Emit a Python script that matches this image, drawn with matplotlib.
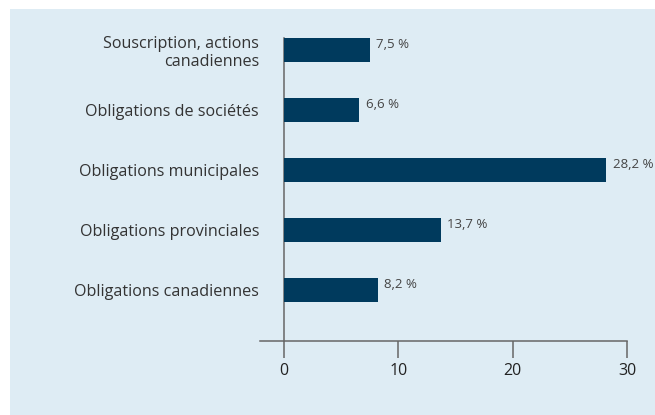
import matplotlib.pyplot as plt
from matplotlib.patches import Rectangle

categories = [
    "Obligations canadiennes",
    "Obligations provinciales",
    "Obligations municipales",
    "Obligations de sociétés",
    "Souscription, actions\ncanadiennes",
]
values = [8.2, 13.7, 28.2, 6.6, 7.5]
value_labels = ["8,2 %", "13,7 %", "28,2 %", "6,6 %", "7,5 %"]
xticks = [0, 10, 20, 30]

plt.rcParams['font.family'] = ['Open Sans', 'DejaVu Sans']

bg = '#deecf4'
navy = '#003a5d'
axis_grey = '#666666'

W, H = 655, 415
fig = plt.figure(figsize=(W / 100, H / 100), dpi=100)
fig.patch.set_facecolor('white')
fig.patches.append(Rectangle((10 / W, 0), 1 - 10 / W, 1 - 9 / H,
                             transform=fig.transFigure, facecolor=bg,
                             edgecolor='none', zorder=-10))

# axes box in pixels: x from 260 to 627, y from 38 to 341
ax = fig.add_axes([260 / W, (H - 341) / H, (627 - 260) / W, (341 - 38) / H])
ax.set_facecolor('none')

ypos = list(range(len(categories)))
ax.barh(ypos, values, height=0.39, color=navy, zorder=3)
for y, v, lab in zip(ypos, values, value_labels):
    ax.annotate(lab, (v, y), xytext=(4.5, 4), textcoords='offset points',
                ha='left', va='center', fontsize=9.5, color='#444444')

ax.set_xlim(-2.1, 30)
ax.set_ylim(-0.85, 4.2)
ax.set_xticks(xticks)
ax.set_xticklabels([str(t) for t in xticks])
ax.set_yticks(ypos)
ax.set_yticklabels(categories)
ax.tick_params(axis='x', direction='out', length=12, width=1.1,
               color=axis_grey, pad=4, labelsize=11.5, labelcolor='#222222')
ax.tick_params(axis='y', length=0, pad=18, labelsize=11.6,
               labelcolor='#333333')
for t in ax.get_yticklabels():
    t.set_linespacing(1.25)

for s in ('top', 'right'):
    ax.spines[s].set_visible(False)
ax.spines['left'].set_position(('data', 0))
ax.spines['left'].set_color(axis_grey)
ax.spines['bottom'].set_color(axis_grey)
ax.spines['left'].set_linewidth(1.1)
ax.spines['bottom'].set_linewidth(1.1)

fig.savefig('out.png', dpi=100, facecolor=fig.get_facecolor())
